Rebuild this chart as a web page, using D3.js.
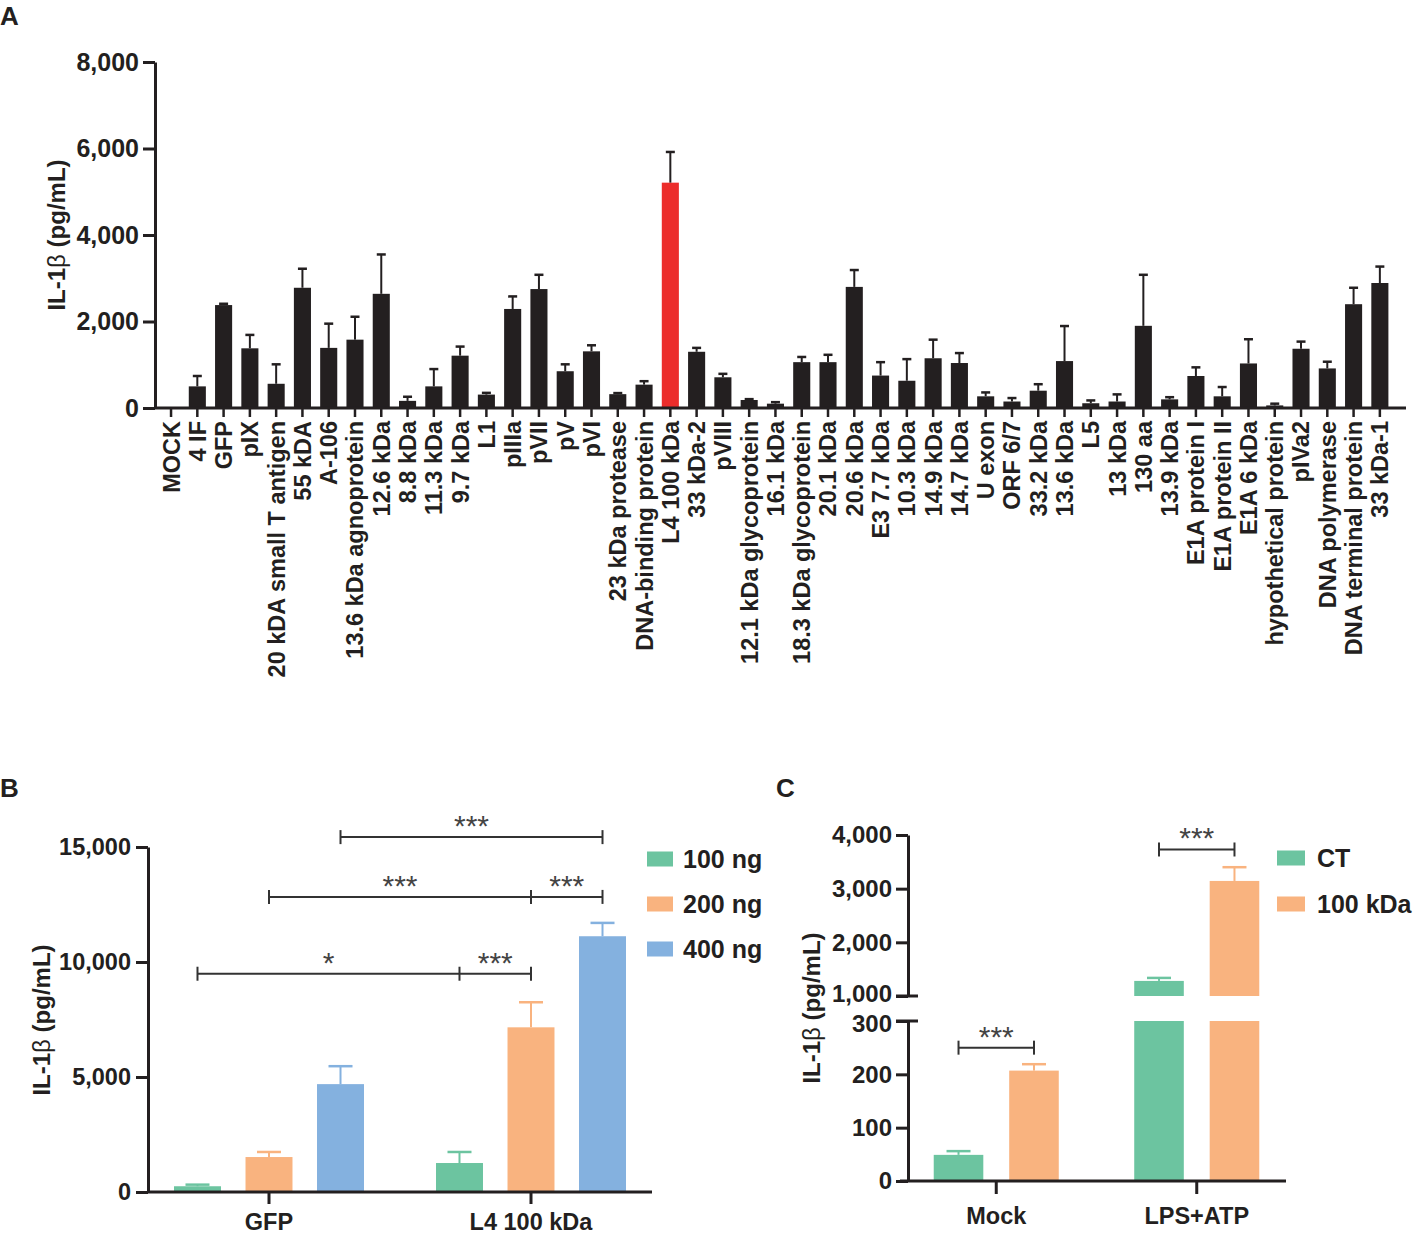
<!DOCTYPE html>
<html>
<head>
<meta charset="utf-8">
<script src="https://cdn.jsdelivr.net/npm/d3@7"></script>
<style>
  body { margin: 0; background: #fff; }
  svg { font-family: "Liberation Sans", Arial, sans-serif; }
</style>
</head>
<body>
<div id="chart"></div>
<script>
// ---- panel A data ----
const labelsA = ["MOCK", "4 IF", "GFP", "pIX", "20 kDA small T antigen", "55 kDA", "A-106",
    "13.6 kDa agnoprotein", "12.6 kDa", "8.8 kDa", "11.3 kDa", "9.7 kDa", "L1", "pIIIa", "pVII",
    "pV", "pVI", "23 kDa protease", "DNA-binding protein", "L4 100 kDa", "33 kDa-2", "pVIII",
    "12.1 kDa glycoprotein", "16.1 kDa", "18.3 kDa glycoprotein", "20.1 kDa", "20.6 kDa",
    "E3 7.7 kDa", "10.3 kDa", "14.9 kDa", "14.7 kDa", "U exon", "ORF 6/7", "33.2 kDa", "13.6 kDa ",
    "L5", "13 kDa", "130 aa", "13.9 kDa", "E1A protein I", "E1A protein II", "E1A 6 kDa",
    "hypothetical protein", "pIVa2", "DNA polymerase", "DNA terminal protein", "33 kDa-1"]
const meansA = [0, 500, 2380, 1380, 560, 2780, 1390, 1580, 2640, 165, 500, 1210, 310, 2290, 2750,
    850, 1310, 320, 540, 5210, 1300, 710, 185, 100, 1060, 1060, 2800, 750, 630, 1150, 1040, 270,
    150, 400, 1085, 110, 150, 1900, 200, 740, 270, 1030, 60, 1370, 915, 2400, 2890]
const sdA = [0, 240, 30, 310, 450, 440, 560, 530, 910, 95, 400, 210, 40, 290, 330,
    160, 140, 25, 80, 710, 90, 80, 20, 35, 120, 170, 390, 310, 500, 430, 230, 90,
    80, 150, 810, 65, 165, 1180, 50, 200, 215, 560, 40, 165, 155, 380, 380]
const highlightA = "L4 100 kDa"
const ticksA = [0, 2000, 4000, 6000, 8000]

// ---- panel B data ----
const groupsB = ["GFP", "L4 100 kDa"]
const seriesB = ["100 ng", "200 ng", "400 ng"]
const meansB = [[250, 1520, 4690], [1260, 7160, 11120]]
const sdB = [[70, 220, 780], [480, 1090, 580]]
const ticksB = [0, 5000, 10000, 15000]
// brackets: [group, series] end points, bracket height, stars per segment
const bracketsB = [
    { pts: [[0, 2], [1, 2]], y: 15430, stars: ["***"] },
    { pts: [[0, 1], [1, 1], [1, 2]], y: 12830, stars: ["***", "***"] },
    { pts: [[0, 0], [1, 0], [1, 1]], y: 9490, stars: ["*", "***"] }
]

// ---- panel C data ----
const groupsC = ["Mock", "LPS+ATP"]
const seriesC = ["CT", "100 kDa"]
const meansC = [[49, 207], [1281, 3144]]
const sdC = [[7, 12], [56, 256]]
const ticksClow = [0, 100, 200, 300]
const ticksChigh = [1000, 2000, 3000, 4000]
const bracketsC = [
    { pts: [[0, 0], [0, 1]], y: 250, stars: ["***"] },
    { pts: [[1, 0], [1, 1]], y: 3730, stars: ["***"] }
]

const colors = ["#6cc4a0", "#f9b37f", "#84b1df"]
const ink = "#231f20"

const svg = d3.select("#chart").append("svg")
    .attr("width", 1418)
    .attr("height", 1236)

function panelLetter(t, x, y) {
    svg.append("text").attr("x", x).attr("y", y)
        .attr("font-size", 26).attr("font-weight", "bold").attr("fill", ink).text(t)
}

function yTitle(x, y) {
    const t = svg.append("text")
        .attr("transform", `translate(${x},${y}) rotate(-90)`)
        .attr("text-anchor", "middle").attr("dy", "0.35em")
        .attr("font-size", 24).attr("font-weight", "bold").attr("fill", ink)
    t.append("tspan").text("IL-1")
    t.append("tspan").attr("font-weight", "normal").text("β")
    t.append("tspan").text(" (pg/mL)")
}

function styleAxis(g, size) {
    g.selectAll("path, line").attr("stroke", ink).attr("stroke-width", 3)
    g.selectAll("text").attr("font-size", size).attr("font-weight", "bold")
        .attr("fill", ink).attr("font-family", "Liberation Sans, Arial, sans-serif")
}

function errorBar(g, cx, y0, y1, cap, color) {
    g.append("line").attr("x1", cx).attr("x2", cx).attr("y1", y0).attr("y2", y1)
        .attr("stroke", color).attr("stroke-width", 2)
    g.append("line").attr("x1", cx - cap / 2).attr("x2", cx + cap / 2).attr("y1", y1).attr("y2", y1)
        .attr("stroke", color).attr("stroke-width", 2.5)
}

function bracket(xs, yy, stars) {
    const g = svg.append("g")
    g.append("line").attr("x1", xs[0]).attr("x2", xs[xs.length - 1]).attr("y1", yy).attr("y2", yy)
        .attr("stroke", "#333").attr("stroke-width", 2)
    xs.forEach(x => g.append("line").attr("x1", x).attr("x2", x).attr("y1", yy - 7).attr("y2", yy + 7)
        .attr("stroke", "#333").attr("stroke-width", 2))
    stars.forEach((s, i) => {
        g.append("text").attr("x", (xs[i] + xs[i + 1]) / 2).attr("y", yy - 1)
            .attr("text-anchor", "middle").attr("font-size", 30).attr("fill", "#444").text(s)
    })
}

// ================= Panel A =================
panelLetter("A", 0, 25)
const yA = d3.scaleLinear().domain([0, 8000]).range([408, 62])
const xA = d3.scaleBand().domain(labelsA).range([157.9, 1393]).paddingInner(0.35).paddingOuter(0.175)

const barsA = svg.append("g")
barsA.selectAll("rect").data(labelsA).join("rect")
    .attr("x", d => xA(d))
    .attr("width", xA.bandwidth())
    .attr("y", (d, i) => yA(meansA[i]))
    .attr("height", (d, i) => yA(0) - yA(meansA[i]))
    .attr("fill", d => d === highlightA ? "#ec2d2b" : ink)
labelsA.forEach((d, i) => {
    if (meansA[i] > 0) {
        errorBar(barsA, xA(d) + xA.bandwidth() / 2, yA(meansA[i]), yA(meansA[i] + sdA[i]), 9, ink)
    }
})

const gyA = svg.append("g").attr("transform", "translate(155,0)")
    .call(d3.axisLeft(yA).tickValues(ticksA).tickFormat(d3.format(",")).tickSize(12).tickPadding(4).tickSizeOuter(0))
styleAxis(gyA, 25)

const gxA = svg.append("g").attr("transform", "translate(0,408)")
    .call(d3.axisBottom(xA).tickSize(9).tickSizeOuter(0))
gxA.select(".domain").remove()
styleAxis(gxA, 23.5)
gxA.selectAll("line").attr("stroke-width", 2.5)
gxA.selectAll("text")
    .attr("transform", "rotate(-90)")
    .attr("x", -13).attr("y", 0).attr("dy", "0.36em")
    .attr("text-anchor", "end")
svg.append("line").attr("x1", 154).attr("x2", 1406).attr("y1", yA(0)).attr("y2", yA(0))
    .attr("stroke", ink).attr("stroke-width", 3)
yTitle(57, 235)

// ================= Panel B =================
panelLetter("B", 0, 797)
const yB = d3.scaleLinear().domain([0, 15000]).range([1192, 847])
const x0B = d3.scaleBand().domain(groupsB).range([138, 662])
const x1B = d3.scaleBand().domain(seriesB).range([0, x0B.bandwidth()]).paddingInner(0.343).paddingOuter(0.5035)
const cxB = (g, s) => x0B(groupsB[g]) + x1B(seriesB[s]) + x1B.bandwidth() / 2

const barsB = svg.append("g")
groupsB.forEach((g, gi) => {
    seriesB.forEach((s, si) => {
        barsB.append("rect")
            .attr("x", x0B(g) + x1B(s))
            .attr("width", x1B.bandwidth())
            .attr("y", yB(meansB[gi][si]))
            .attr("height", yB(0) - yB(meansB[gi][si]))
            .attr("fill", colors[si])
        errorBar(barsB, cxB(gi, si), yB(meansB[gi][si]), yB(meansB[gi][si] + sdB[gi][si]), 24, colors[si])
    })
})

const gyB = svg.append("g").attr("transform", "translate(148,0)")
    .call(d3.axisLeft(yB).tickValues(ticksB).tickFormat(d3.format(",")).tickSize(12).tickPadding(5).tickSizeOuter(0))
styleAxis(gyB, 23.5)
const gxB = svg.append("g").attr("transform", `translate(0,${yB(0)})`)
    .call(d3.axisBottom(x0B).tickSize(12).tickPadding(9).tickSizeOuter(0))
gxB.select(".domain").remove()
styleAxis(gxB, 23.5)
svg.append("line").attr("x1", 147).attr("x2", 652).attr("y1", yB(0)).attr("y2", yB(0))
    .attr("stroke", ink).attr("stroke-width", 3)
yTitle(42, 1020)

bracketsB.forEach(b => bracket(b.pts.map(p => cxB(p[0], p[1])), yB(b.y), b.stars))

const legB = svg.append("g").attr("transform", "translate(647,859)")
seriesB.forEach((s, i) => {
    legB.append("rect").attr("x", 0).attr("y", i * 45 - 7.5).attr("width", 26).attr("height", 15).attr("fill", colors[i])
    legB.append("text").attr("x", 36).attr("y", i * 45).attr("dy", "0.36em")
        .attr("font-size", 25).attr("font-weight", "bold").attr("fill", ink).text(s)
})

// ================= Panel C =================
panelLetter("C", 776, 797)
const yClow = d3.scaleLinear().domain([0, 300]).range([1181, 1021])
const yChigh = d3.scaleLinear().domain([1000, 4000]).range([996, 835])
const x0C = d3.scaleBand().domain(groupsC).range([896, 1297])
const x1C = d3.scaleBand().domain(seriesC).range([0, x0C.bandwidth()]).paddingInner(0.343).paddingOuter(0.5)
const cxC = (g, s) => x0C(groupsC[g]) + x1C(seriesC[s]) + x1C.bandwidth() / 2

const barsC = svg.append("g")
groupsC.forEach((g, gi) => {
    seriesC.forEach((s, si) => {
        const v = meansC[gi][si]
        const bx = x0C(g) + x1C(s)
        if (v <= 300) {
            barsC.append("rect").attr("x", bx).attr("width", x1C.bandwidth())
                .attr("y", yClow(v)).attr("height", yClow(0) - yClow(v)).attr("fill", colors[si])
            errorBar(barsC, cxC(gi, si), yClow(v), yClow(v + sdC[gi][si]), 24, colors[si])
        } else {
            barsC.append("rect").attr("x", bx).attr("width", x1C.bandwidth())
                .attr("y", yClow(300)).attr("height", yClow(0) - yClow(300)).attr("fill", colors[si])
            barsC.append("rect").attr("x", bx).attr("width", x1C.bandwidth())
                .attr("y", yChigh(v)).attr("height", yChigh(1000) - yChigh(v)).attr("fill", colors[si])
            errorBar(barsC, cxC(gi, si), yChigh(v), yChigh(v + sdC[gi][si]), 24, colors[si])
        }
    })
})

const gyClow = svg.append("g").attr("transform", "translate(908,0)")
    .call(d3.axisLeft(yClow).tickValues(ticksClow).tickFormat(d3.format(",")).tickSize(12).tickPadding(4).tickSizeOuter(0))
styleAxis(gyClow, 24)
gyClow.selectAll(".tick text").filter(d => d === 300).attr("dy", "0.45em")
const gyChigh = svg.append("g").attr("transform", "translate(908,0)")
    .call(d3.axisLeft(yChigh).tickValues(ticksChigh).tickFormat(d3.format(",")).tickSize(12).tickPadding(4).tickSizeOuter(0))
styleAxis(gyChigh, 24)
gyChigh.selectAll(".tick text").filter(d => d === 1000).attr("dy", "0.22em")
// break marks run across the axis
;[yClow(300), yChigh(1000)].forEach(yy => {
    svg.append("line").attr("x1", 896).attr("x2", 918).attr("y1", yy).attr("y2", yy)
        .attr("stroke", ink).attr("stroke-width", 3)
})

const gxC = svg.append("g").attr("transform", `translate(0,${yClow(0)})`)
    .call(d3.axisBottom(x0C).tickSize(13).tickPadding(13).tickSizeOuter(0))
gxC.select(".domain").remove()
styleAxis(gxC, 23.5)
svg.append("line").attr("x1", 900).attr("x2", 1286).attr("y1", yClow(0)).attr("y2", yClow(0))
    .attr("stroke", ink).attr("stroke-width", 3)
yTitle(812, 1008)

bracket(bracketsC[0].pts.map(p => cxC(p[0], p[1])), yClow(bracketsC[0].y), bracketsC[0].stars)
bracket(bracketsC[1].pts.map(p => cxC(p[0], p[1])), yChigh(bracketsC[1].y), bracketsC[1].stars)

const legC = svg.append("g").attr("transform", "translate(1277,858)")
seriesC.forEach((s, i) => {
    legC.append("rect").attr("x", 0).attr("y", i * 46 - 7.5).attr("width", 28).attr("height", 15).attr("fill", colors[i])
    legC.append("text").attr("x", 40).attr("y", i * 46).attr("dy", "0.36em")
        .attr("font-size", 25).attr("font-weight", "bold").attr("fill", ink).text(s)
})
</script>
</body>
</html>
